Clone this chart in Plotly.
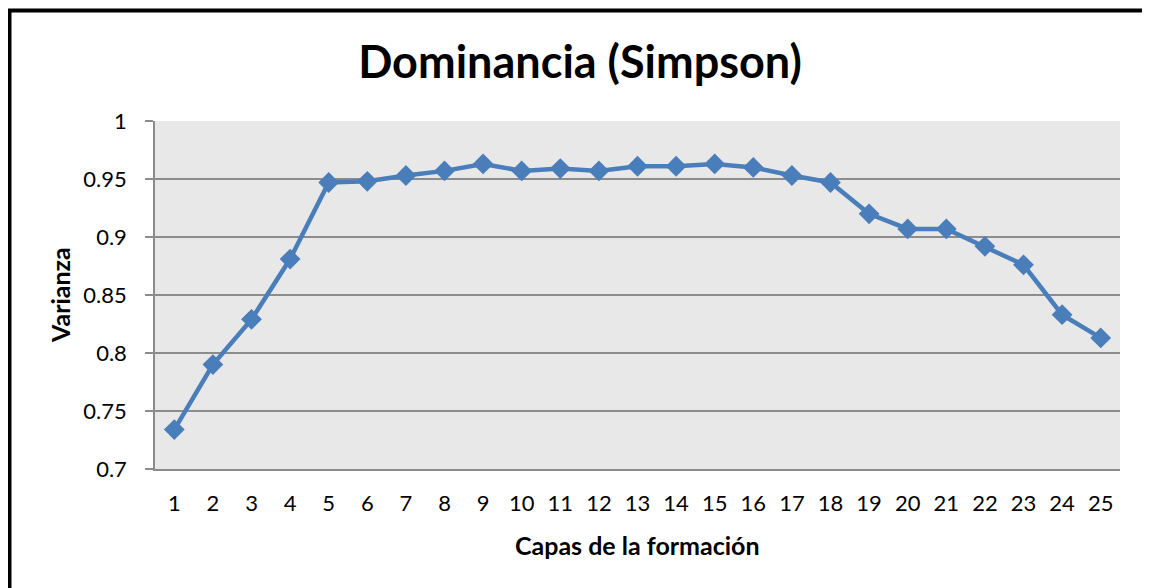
import plotly.graph_objects as go

capas = list(range(1, 26))
simpson = [0.734, 0.790, 0.829, 0.881, 0.947, 0.948, 0.953, 0.957, 0.963, 0.957,
           0.959, 0.957, 0.961, 0.961, 0.963, 0.960, 0.953, 0.947, 0.920, 0.907,
           0.907, 0.892, 0.876, 0.833, 0.813]
y_ticks = [0.7, 0.75, 0.8, 0.85, 0.9, 0.95, 1]
y_labels = ["0.7", "0.75", "0.8", "0.85", "0.9", "0.95", "1"]

# page body has an 8px margin -> shift figure accordingly
OFF = 8
W, H = 1150 - OFF, 588 - OFF
L, R, T, B = 155 - OFF, 30, 121 - OFF, 119
pw, ph = W - L - R, H - T - B

blue = "#4a7ebb"
grid = "#8c8c8c"
font = "Lato"

fig = go.Figure()
fig.add_trace(go.Scatter(
    x=capas, y=simpson, mode="lines+markers",
    line=dict(color=blue, width=4.5),
    marker=dict(symbol="diamond", size=16, color=blue),
    showlegend=False, hoverinfo="x+y",
))

def px_x(px):
    return (px - OFF - L) / pw

def px_y(py):
    return (H - B - (py - OFF)) / ph

fig.update_layout(
    width=W, height=H,
    margin=dict(l=L, r=R, t=T, b=B, autoexpand=False),
    paper_bgcolor="white",
    plot_bgcolor="#e8e8e8",
    font=dict(family=font, color="black", size=22),
    title=dict(text="<b>Dominancia (Simpson)</b>", x=(580 - OFF) / W, xref="container",
               xanchor="center", y=1 - (62 - OFF) / H, yref="container", yanchor="middle",
               font=dict(family=font, size=45, color="black")),
    xaxis=dict(range=[0.5, 25.5], tickmode="array", tickvals=capas,
               ticktext=[str(c) for c in capas], showgrid=False, zeroline=False,
               showline=True, linecolor=grid, linewidth=1.5, ticks="",
               ticklabelstandoff=14,
               tickfont=dict(family=font, size=22), fixedrange=True),
    yaxis=dict(range=[0.7, 1.0], tickmode="array", tickvals=y_ticks, ticktext=y_labels,
               showgrid=True, gridcolor=grid, gridwidth=1.5, zeroline=False,
               showline=True, linecolor=grid, linewidth=1.5,
               ticks="outside", ticklen=8, tickcolor=grid, tickwidth=1.5,
               ticklabelstandoff=14,
               tickfont=dict(family=font, size=22), fixedrange=True),
    annotations=[
        dict(text="<b>Capas de la formación</b>", xref="paper", yref="paper",
             x=px_x(637), y=px_y(545), xanchor="center", yanchor="middle",
             showarrow=False, font=dict(family=font, size=25, color="black")),
        dict(text="<b>Varianza</b>", xref="paper", yref="paper",
             x=px_x(60), y=px_y(295), xanchor="center", yanchor="middle",
             textangle=-90, showarrow=False, font=dict(family=font, size=25, color="black")),
    ],
    shapes=[
        dict(type="rect", xref="paper", yref="paper",
             x0=px_x(9.5), x1=px_x(1148), y0=px_y(10.5), y1=px_y(600),
             line=dict(color="black", width=4), fillcolor="rgba(0,0,0,0)", layer="above"),
    ],
)

fig.write_html("out.html")
